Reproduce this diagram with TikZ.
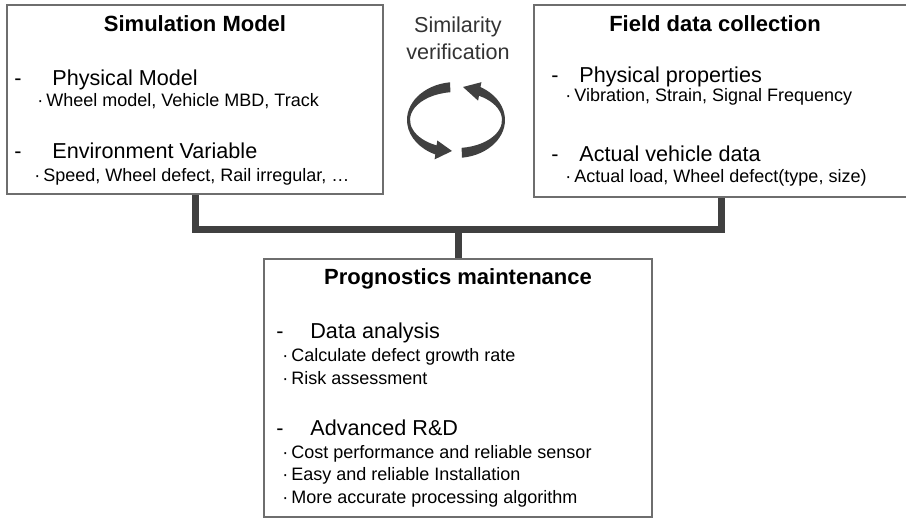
\documentclass[tikz,border=0pt]{standalone}
\usepackage{fontspec}
\setmainfont{Liberation Sans}
\usetikzlibrary{positioning,calc}
\definecolor{Edge}{HTML}{6E6E6E}
\definecolor{Wire}{HTML}{404040}
\definecolor{Label}{HTML}{333333}
\tikzset{
 box/.style={draw=Edge,line width=1pt,inner sep=0pt},
 title/.style={font=\fontsize{11}{13}\selectfont\bfseries,anchor=base,inner sep=0pt},
 head/.style={font=\fontsize{10.8}{13}\selectfont,anchor=base west,inner sep=0pt},
 item/.style={font=\fontsize{9}{11}\selectfont,anchor=base west,inner sep=0pt},
 link/.style={draw=Wire,line width=3.5pt},
 cyc/.style={fill=Wire}
}
\begin{document}
\begin{tikzpicture}[x=.5pt,y=.5pt]
\useasboundingbox (0,0) rectangle (906,519);
% three blocks
\node[box,minimum width=188pt,minimum height=94.5pt] (sim) at (195,419.5) {};
\node[box,minimum width=187pt,minimum height=96pt] (field) at (721,418) {};
\node[box,minimum width=194pt,minimum height=129pt] (prog) at (458,131) {};

% simulation side
\node[title] (simT) at (195,487) {Simulation Model};
\node[head] (simD1) at (14,433) {-};
\node[head] (simH1) at (52,433) {Physical Model};
\node[item] (simI1) at (37,412) {·\,Wheel model, Vehicle MBD, Track};
\node[head] (simD2) at (14,360) {-};
\node[head] (simH2) at (52,360) {Environment Variable};
\node[item] (simI2) at (34,337) {·\,Speed, Wheel defect, Rail irregular, …};

% field side
\node[title] (fldT) at (715,487) {Field data collection};
\node[head] (fldD1) at (551,436) {-};
\node[head] (fldH1) at (579,436) {Physical properties};
\node[item] (fldI1) at (565,417) {·\,Vibration, Strain, Signal Frequency};
\node[head] (fldD2) at (551,357) {-};
\node[head] (fldH2) at (579,357) {Actual vehicle data};
\node[item] (fldI2) at (565,336) {·\,Actual load, Wheel defect(type, size)};

% maintenance block
\node[title] (prgT) at (458,234) {Prognostics maintenance};
\node[head] (prgD1) at (276,180) {-};
\node[head] (prgH1) at (310,180) {Data analysis};
\foreach \y/\txt [count=\i] in {157/{Calculate defect growth rate},134.5/{Risk assessment}}
 \node[item] (prgA\i) at (282,\y) {·\,\txt};
\node[head] (prgD2) at (276,83) {-};
\node[head] (prgH2) at (310,83) {Advanced R\&D};
\foreach \y/\txt [count=\i] in {60/{Cost performance and reliable sensor},38/{Easy and reliable Installation},15.4/{More accurate processing algorithm}}
 \node[item] (prgB\i) at (282,\y) {·\,\txt};

% verification label and cycle
\node[font=\fontsize{10.8}{13.5}\selectfont,text=Label,align=center,anchor=base,inner sep=0pt] (simil) at (458,459) {Similarity\\verification};
\fill[cyc] (456,399) ++(97:49 and 38) arc[start angle=97,end angle=245,x radius=49,y radius=38]
 -- (434.6,359.6) -- (452,368) -- (437.3,378.5) -- (436.6,373.6)
 arc[start angle=245,end angle=97,x radius=46,y radius=28] -- cycle;
\fill[cyc] (456,399) ++(277:49 and 38) arc[start angle=277,end angle=420,x radius=49,y radius=38]
 -- (481.4,436.8) -- (463,432) -- (478.1,418.3) -- (479,423.2)
 arc[start angle=60,end angle=-83,x radius=46,y radius=28] -- cycle;

% connectors
\coordinate (bus) at (458,289.5);
\draw[link] (sim.south) -- (sim.south |- bus) -- (field.south |- bus) -- (field.south);
\draw[link] (prog.north |- bus) -- (prog.north);
\end{tikzpicture}
\end{document}
